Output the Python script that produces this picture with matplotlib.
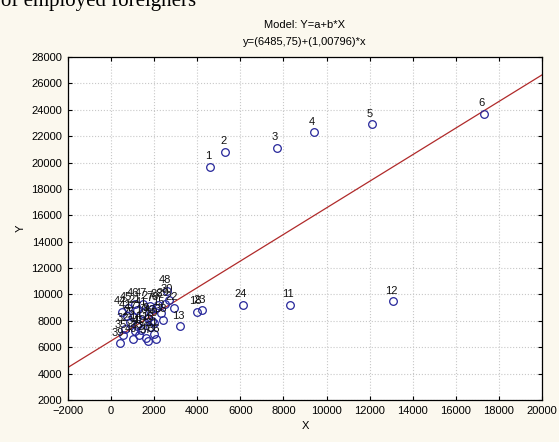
import matplotlib
matplotlib.use("Agg")
import matplotlib.pyplot as plt

case_ids = ['1', '2', '3', '4', '5', '6', '11', '12', '13', '22', '24', '18', '23',
            '7', '8', '9', '10', '14', '15', '16', '17', '19', '20', '21', '25',
            '26', '27', '28', '29', '30', '31', '32', '33', '34', '35', '36', '37',
            '38', '39', '40', '41', '42', '43', '44', '45', '46', '47', '48']
x_vals = [4600, 5300, 7700, 9400, 12100, 17300, 8300, 13100, 3200, 2900, 6100, 4000, 4200,
          1900, 2100, 1700, 1500, 1200, 2300, 1800, 1000, 1400, 2000, 1200, 900,
          1600, 1800, 2200, 2500, 2700, 2000, 650, 1300, 1100, 550, 2100, 1700,
          2400, 400, 1000, 1500, 750, 1900, 500, 800, 1100, 1500, 2600]
y_vals = [19700, 20800, 21100, 22300, 22900, 23700, 9200, 9500, 7600, 9000, 9200, 8700, 8800,
          8900, 9000, 8200, 8000, 7600, 8600, 7500, 8300, 7300, 7800, 8800, 7900,
          6700, 9100, 9200, 9300, 9600, 7000, 7400, 6900, 7200, 6900, 6600, 6500,
          8100, 6300, 6600, 8600, 8400, 8000, 8700, 9000, 9300, 9300, 10300]

# fitted model
a = 6485.75
b = 1.00796
line_x = [-2000, 20000]

fig = plt.figure(figsize=(5.59, 4.42), dpi=100, facecolor='#fbf8ee')
plt.rcParams['font.family'] = ['Liberation Sans', 'DejaVu Sans']
ax = fig.add_axes([0.1216, 0.095, 0.848, 0.776])
ax.set_facecolor('white')

ax.plot(line_x, [a + b * v for v in line_x], color='#b02a2a', lw=0.9, zorder=2)
ax.plot(x_vals, y_vals, 'o', mfc='none', mec='#26269a', mew=0.9, ms=5.5, zorder=3)
for lab, xv, yv in zip(case_ids, x_vals, y_vals):
    ax.annotate(lab, (xv, yv), xytext=(-1.5, 4), textcoords='offset points',
                ha='center', va='bottom', fontsize=8, color='#111111', zorder=4)

ax.set_xlim(-2000, 20000)
ax.set_ylim(2000, 28000)
ax.set_xticks(range(-2000, 20001, 2000))
ax.set_yticks(range(2000, 28001, 2000))
ax.tick_params(direction='in', length=3, labelsize=8, top=True, right=True,
               labeltop=False, labelright=False, pad=4)
ax.grid(True, linestyle=':', color='#c8c8c8', lw=0.8)
for s in ax.spines.values():
    s.set_linewidth(0.9)

ax.set_xlabel('X', fontsize=8)
ax.set_ylabel('Y', fontsize=8)

fig.text(0.545, 1 - 25 / 442, 'Model: Y=a+b*X', ha='center', va='center', fontsize=8)
fig.text(0.545, 1 - 42 / 442, 'y=(6485,75)+(1,00796)*x', ha='center', va='center', fontsize=8)
# caption from the page above the chart, cut off by the crop
fig.text(0.002, 1 - 6 / 442, 'of employed foreigners', ha='left', va='baseline',
         fontsize=15, family='Liberation Serif')

fig.savefig('out.png', dpi=100, facecolor=fig.get_facecolor())
